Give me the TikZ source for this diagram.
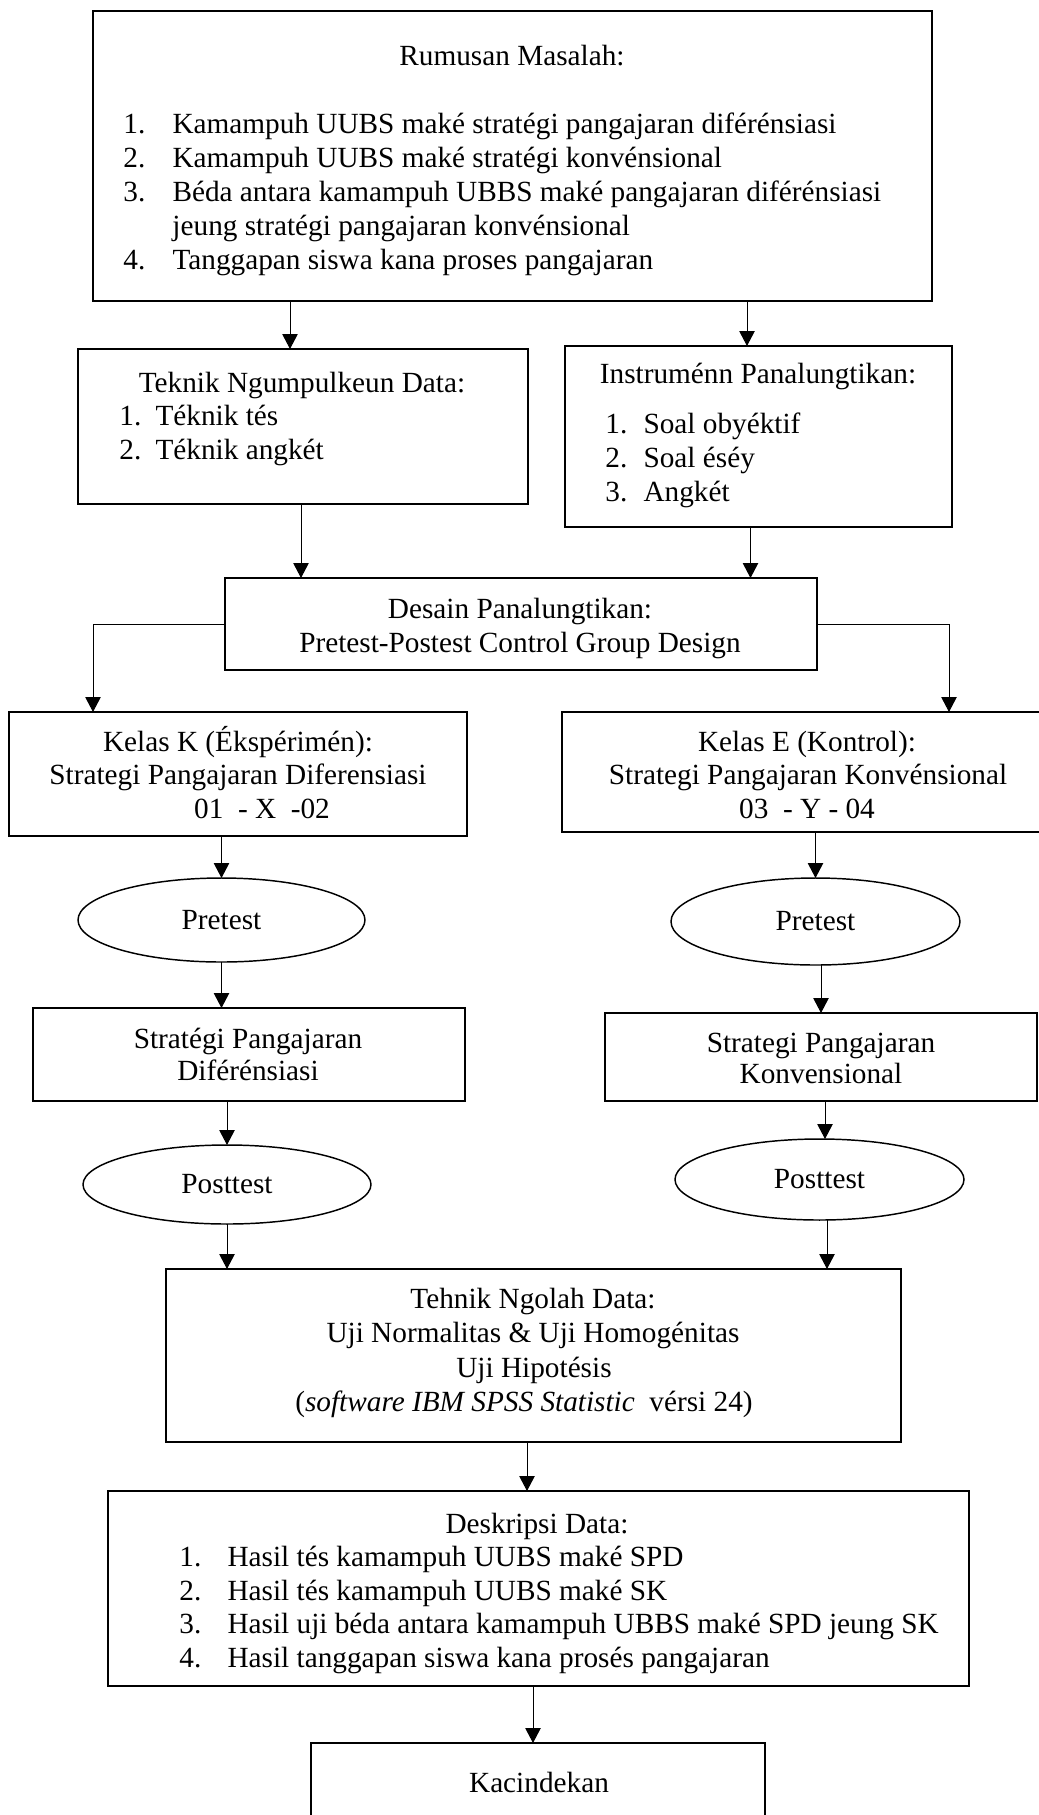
\documentclass[tikz,border=0pt]{standalone}
\usepackage{fontspec}
\setmainfont{Liberation Serif}
\usetikzlibrary{shapes.geometric,arrows.meta}
\newcommand{\pxu}{0.41pt}
\newcommand{\nmr}[2]{\makebox[#1][l]{#2}}

\begin{document}
\begin{tikzpicture}[x=0.41pt, y=-0.41pt, font=\fontsize{12pt}{14.1pt}\selectfont]
	\tikzset{box/.style = {shape=rectangle, draw, line width=0.8pt, inner sep=0pt, outer sep=0pt},
		oval/.style = {shape=ellipse, draw, line width=0.6pt, inner sep=0pt, outer sep=0pt},
		txt/.style = {inner sep=0pt, anchor=base},
		lst/.style = {inner sep=0pt, anchor=base west},
		arr/.style = {line width=0.4pt, -{Triangle[width=6.3pt, length=6.1pt]}}}
	
	\useasboundingbox (0,0) rectangle (1039,1815);
	
	% rumusan masalah
	\node[box, minimum width=839*\pxu, minimum height=290*\pxu] (rumusan) at (512.5,156) {};
	\node[txt] (rumusanJ) at (512,65) {Rumusan Masalah:};
	\node[lst] (rumusan1) at (123,133) {\nmr{20.1pt}{1.}Kamampuh UUBS maké stratégi pangajaran diférénsiasi};
	\node[lst] (rumusan2) at (123,167) {\nmr{20.1pt}{2.}Kamampuh UUBS maké stratégi konvénsional};
	\node[lst] (rumusan3) at (123,201) {\nmr{20.1pt}{3.}Béda antara kamampuh UBBS maké pangajaran diférénsiasi};
	\node[lst] (rumusan3b) at (172,235) {jeung stratégi pangajaran konvénsional};
	\node[lst] (rumusan4) at (123,269) {\nmr{20.1pt}{4.}Tanggapan siswa kana proses pangajaran};
	
	\node[box, minimum width=450*\pxu, minimum height=155*\pxu] (teknik) at (303,426.5) {};
	\node[txt] (teknikJ) at (302,392) {Teknik Ngumpulkeun Data:};
	\node[lst] (teknik1) at (119,425) {\nmr{14.8pt}{1.}Téknik tés};
	\node[lst] (teknik2) at (119,459) {\nmr{14.8pt}{2.}Téknik angkét};
	
	\node[box, minimum width=387*\pxu, minimum height=181*\pxu] (instrumen) at (758.5,436.5) {};
	\node[txt] (instrumenJ) at (758,383) {Instruménn Panalungtikan:};
	\node[lst] (instrumen1) at (605,433) {\nmr{15.6pt}{1.}Soal obyéktif};
	\node[lst] (instrumen2) at (605,467) {\nmr{15.6pt}{2.}Soal éséy};
	\node[lst] (instrumen3) at (605,501) {\nmr{15.6pt}{3.}Angkét};
	
	\node[box, minimum width=592*\pxu, minimum height=92*\pxu] (desain) at (521,624) {};
	\node[txt] (desain1) at (520,618) {Desain Panalungtikan:};
	\node[txt] (desain2) at (520,652) {Pretest-Postest Control Group Design};
	
	% kelas
	\node[box, minimum width=458*\pxu, minimum height=124*\pxu] (kelasK) at (238,774) {};
	\node[txt] (kelasK1) at (238,751) {Kelas K (Ékspérimén):};
	\node[txt] (kelasK2) at (238,784) {Strategi Pangajaran Diferensiasi};
	\node[txt] (kelasK3) at (262,818) {01~~-~X~~-02};
	
	\node[box, minimum width=490*\pxu, minimum height=120*\pxu] (kelasE) at (807,772) {};
	\node[txt] (kelasE1) at (807,751) {Kelas E (Kontrol):};
	\node[txt] (kelasE2) at (808,784) {Strategi Pangajaran Konvénsional};
	\node[txt] (kelasE3) at (807,818) {03~~-~Y~-~04};
	
	\node[oval, minimum width=287*\pxu, minimum height=84*\pxu] (preK) at (221.5,920) {Pretest};
	\node[oval, minimum width=289*\pxu, minimum height=87*\pxu] (preE) at (815.5,921.5) {Pretest};
	
	\node[box, minimum width=432*\pxu, minimum height=93*\pxu] (strK) at (249,1054.5) {};
	\node[txt] (strK1) at (248,1048) {Stratégi Pangajaran};
	\node[txt] (strK2) at (248,1080) {Diférénsiasi};
	
	\node[box, minimum width=432*\pxu, minimum height=88*\pxu] (strE) at (821,1057) {};
	\node[txt] (strE1) at (821,1052) {Strategi Pangajaran};
	\node[txt] (strE2) at (821,1083) {Konvensional};
	
	\node[oval, minimum width=288*\pxu, minimum height=79*\pxu] (postK) at (227,1184.5) {Posttest};
	\node[oval, minimum width=289*\pxu, minimum height=81*\pxu] (postE) at (819.5,1179.5) {Posttest};
	
	% olah data
	\node[box, minimum width=735*\pxu, minimum height=173*\pxu] (tehnik) at (533.5,1355.5) {};
	\node[txt] (tehnik1) at (533,1308) {Tehnik Ngolah Data:};
	\node[txt] (tehnik2) at (533,1342) {Uji Normalitas \& Uji Homogénitas};
	\node[txt] (tehnik3) at (534,1377) {Uji Hipotésis};
	\node[txt] (tehnik4) at (524,1411) {(\textit{software IBM SPSS Statistic}~~vérsi 24)};
	
	\node[box, minimum width=861*\pxu, minimum height=195*\pxu] (deskripsi) at (538.5,1588.5) {};
	\node[txt] (deskripsiJ) at (537,1533) {Deskripsi Data:};
	\node[lst] (deskripsi1) at (179,1566) {\nmr{19.7pt}{1.}Hasil tés kamampuh UUBS maké SPD};
	\node[lst] (deskripsi2) at (179,1600) {\nmr{19.7pt}{2.}Hasil tés kamampuh UUBS maké SK};
	\node[lst] (deskripsi3) at (179,1633) {\nmr{19.7pt}{3.}Hasil uji béda antara kamampuh UBBS maké SPD jeung SK};
	\node[lst] (deskripsi4) at (179,1667) {\nmr{19.7pt}{4.}Hasil tanggapan siswa kana prosés pangajaran};
	
	\node[box, minimum width=454*\pxu, minimum height=100*\pxu] (kacin) at (538,1793) {};
	\node[txt] (kacin1) at (539,1792) {Kacindekan};
	
	% panah
	\draw[arr] ([xshift=-13*\pxu]teknik.north |- rumusan.south) -- ([xshift=-13*\pxu]teknik.north);
	\draw[arr] ([xshift=-11.5*\pxu]instrumen.north |- rumusan.south) -- ([xshift=-11.5*\pxu]instrumen.north);
	\draw[arr] ([xshift=-2*\pxu]teknik.south) -- ([xshift=-2*\pxu]teknik.south |- desain.north);
	\draw[arr] ([xshift=-8*\pxu]instrumen.south) -- ([xshift=-8*\pxu]instrumen.south |- desain.north);
	\draw[arr] (desain.west) -| ([xshift=-145*\pxu]kelasK.north);
	\draw[arr] (desain.east) -| ([xshift=142*\pxu]kelasE.north);
	\draw[arr] (kelasK.south -| preK.north) -- (preK.north);
	\draw[arr] (kelasE.south -| preE.north) -- (preE.north);
	\draw[arr] (preK.south) -- (preK.south |- strK.north);
	\draw[arr] (strE.north |- preE.south) -- (strE.north);
	\draw[arr] (strK.south -| postK.north) -- (postK.north);
	\draw[arr] ([xshift=4*\pxu]strE.south) -- ([xshift=4*\pxu]strE.south |- postE.north);
	\draw[arr] (postK.south) -- (postK.south |- tehnik.north);
	\draw[arr] ([xshift=7.5*\pxu]postE.south) -- ([xshift=7.5*\pxu]postE.south |- tehnik.north);
	\draw[arr] ([xshift=-6.5*\pxu]tehnik.south) -- ([xshift=-6.5*\pxu]tehnik.south |- deskripsi.north);
	\draw[arr] ([xshift=-5*\pxu]kacin.north |- deskripsi.south) -- ([xshift=-5*\pxu]kacin.north);
	
\end{tikzpicture}
\end{document}
